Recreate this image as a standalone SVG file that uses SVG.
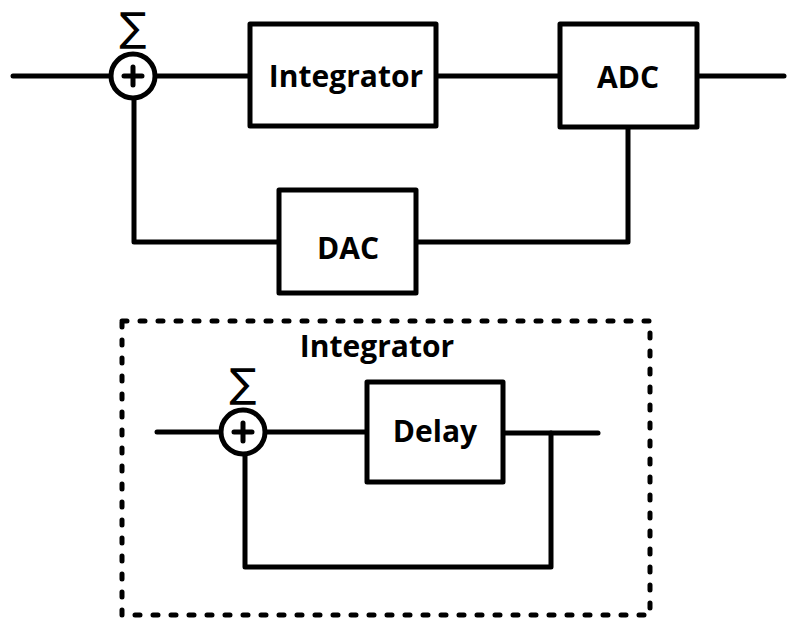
<svg xmlns="http://www.w3.org/2000/svg" width="787" height="621" viewBox="0 0 787 621">
  <style>
    .wire { fill: none; stroke: #000; stroke-width: 5; stroke-linecap: round; stroke-linejoin: round; }
    .block { fill: #fff; stroke: #000; stroke-width: 5; stroke-linejoin: round; }
    .sum { fill: #fff; stroke: #000; stroke-width: 5; }
    .plus { stroke: #000; stroke-width: 5; stroke-linecap: round; }
    .label { font-family: "Open Sans", "Liberation Sans", Arial, sans-serif; font-weight: bold; font-size: 30px; text-anchor: middle; fill: #000; }
    .sigma { font-family: "DejaVu Sans", "Liberation Sans", sans-serif; font-size: 40px; text-anchor: middle; fill: #000; }
    .frame { fill: none; stroke: #000; stroke-width: 5; stroke-dasharray: 5 13; stroke-linecap: round; }
  </style>

  <g id="connectors">
    <!-- top loop -->
    <path class="wire" d="M13 76 H110"/>
    <path class="wire" d="M154 76 H250"/>
    <path class="wire" d="M436 76 H560"/>
    <path class="wire" d="M697 76 H784"/>
    <path class="wire" d="M628 127 V242 H416"/>
    <path class="wire" d="M279 242 H134 V98"/>
    <!-- integrator detail loop -->
    <path class="wire" d="M157 432 H221"/>
    <path class="wire" d="M265 432 H367"/>
    <path class="wire" d="M503 433 H598"/>
    <path class="wire" d="M551 433 V567 H245 V454"/>
  </g>

  <g id="sum1">
    <circle class="sum" cx="133" cy="76" r="22"/>
    <path class="plus" d="M124 76 H142 M133 67 V85"/>
    <text class="sigma" x="133" y="41">∑</text>
  </g>

  <g id="integrator">
    <rect class="block" x="250" y="24" width="186" height="102"/>
    <text class="label" x="346" y="87">Integrator</text>
  </g>

  <g id="adc">
    <rect class="block" x="560" y="24" width="137" height="103"/>
    <text class="label" x="628" y="88">ADC</text>
  </g>

  <g id="dac">
    <rect class="block" x="279" y="190" width="137" height="103"/>
    <text class="label" x="348" y="259">DAC</text>
  </g>

  <g id="integrator-detail">
    <rect class="frame" x="122" y="321" width="528" height="294"/>
    <text class="label" x="377" y="357">Integrator</text>
  </g>

  <g id="sum2">
    <circle class="sum" cx="243" cy="432" r="22"/>
    <path class="plus" d="M234 432 H252 M243 423 V441"/>
    <text class="sigma" x="243" y="397">∑</text>
  </g>

  <g id="delay">
    <rect class="block" x="367" y="382" width="136" height="100"/>
    <text class="label" x="435" y="442">Delay</text>
  </g>
</svg>
